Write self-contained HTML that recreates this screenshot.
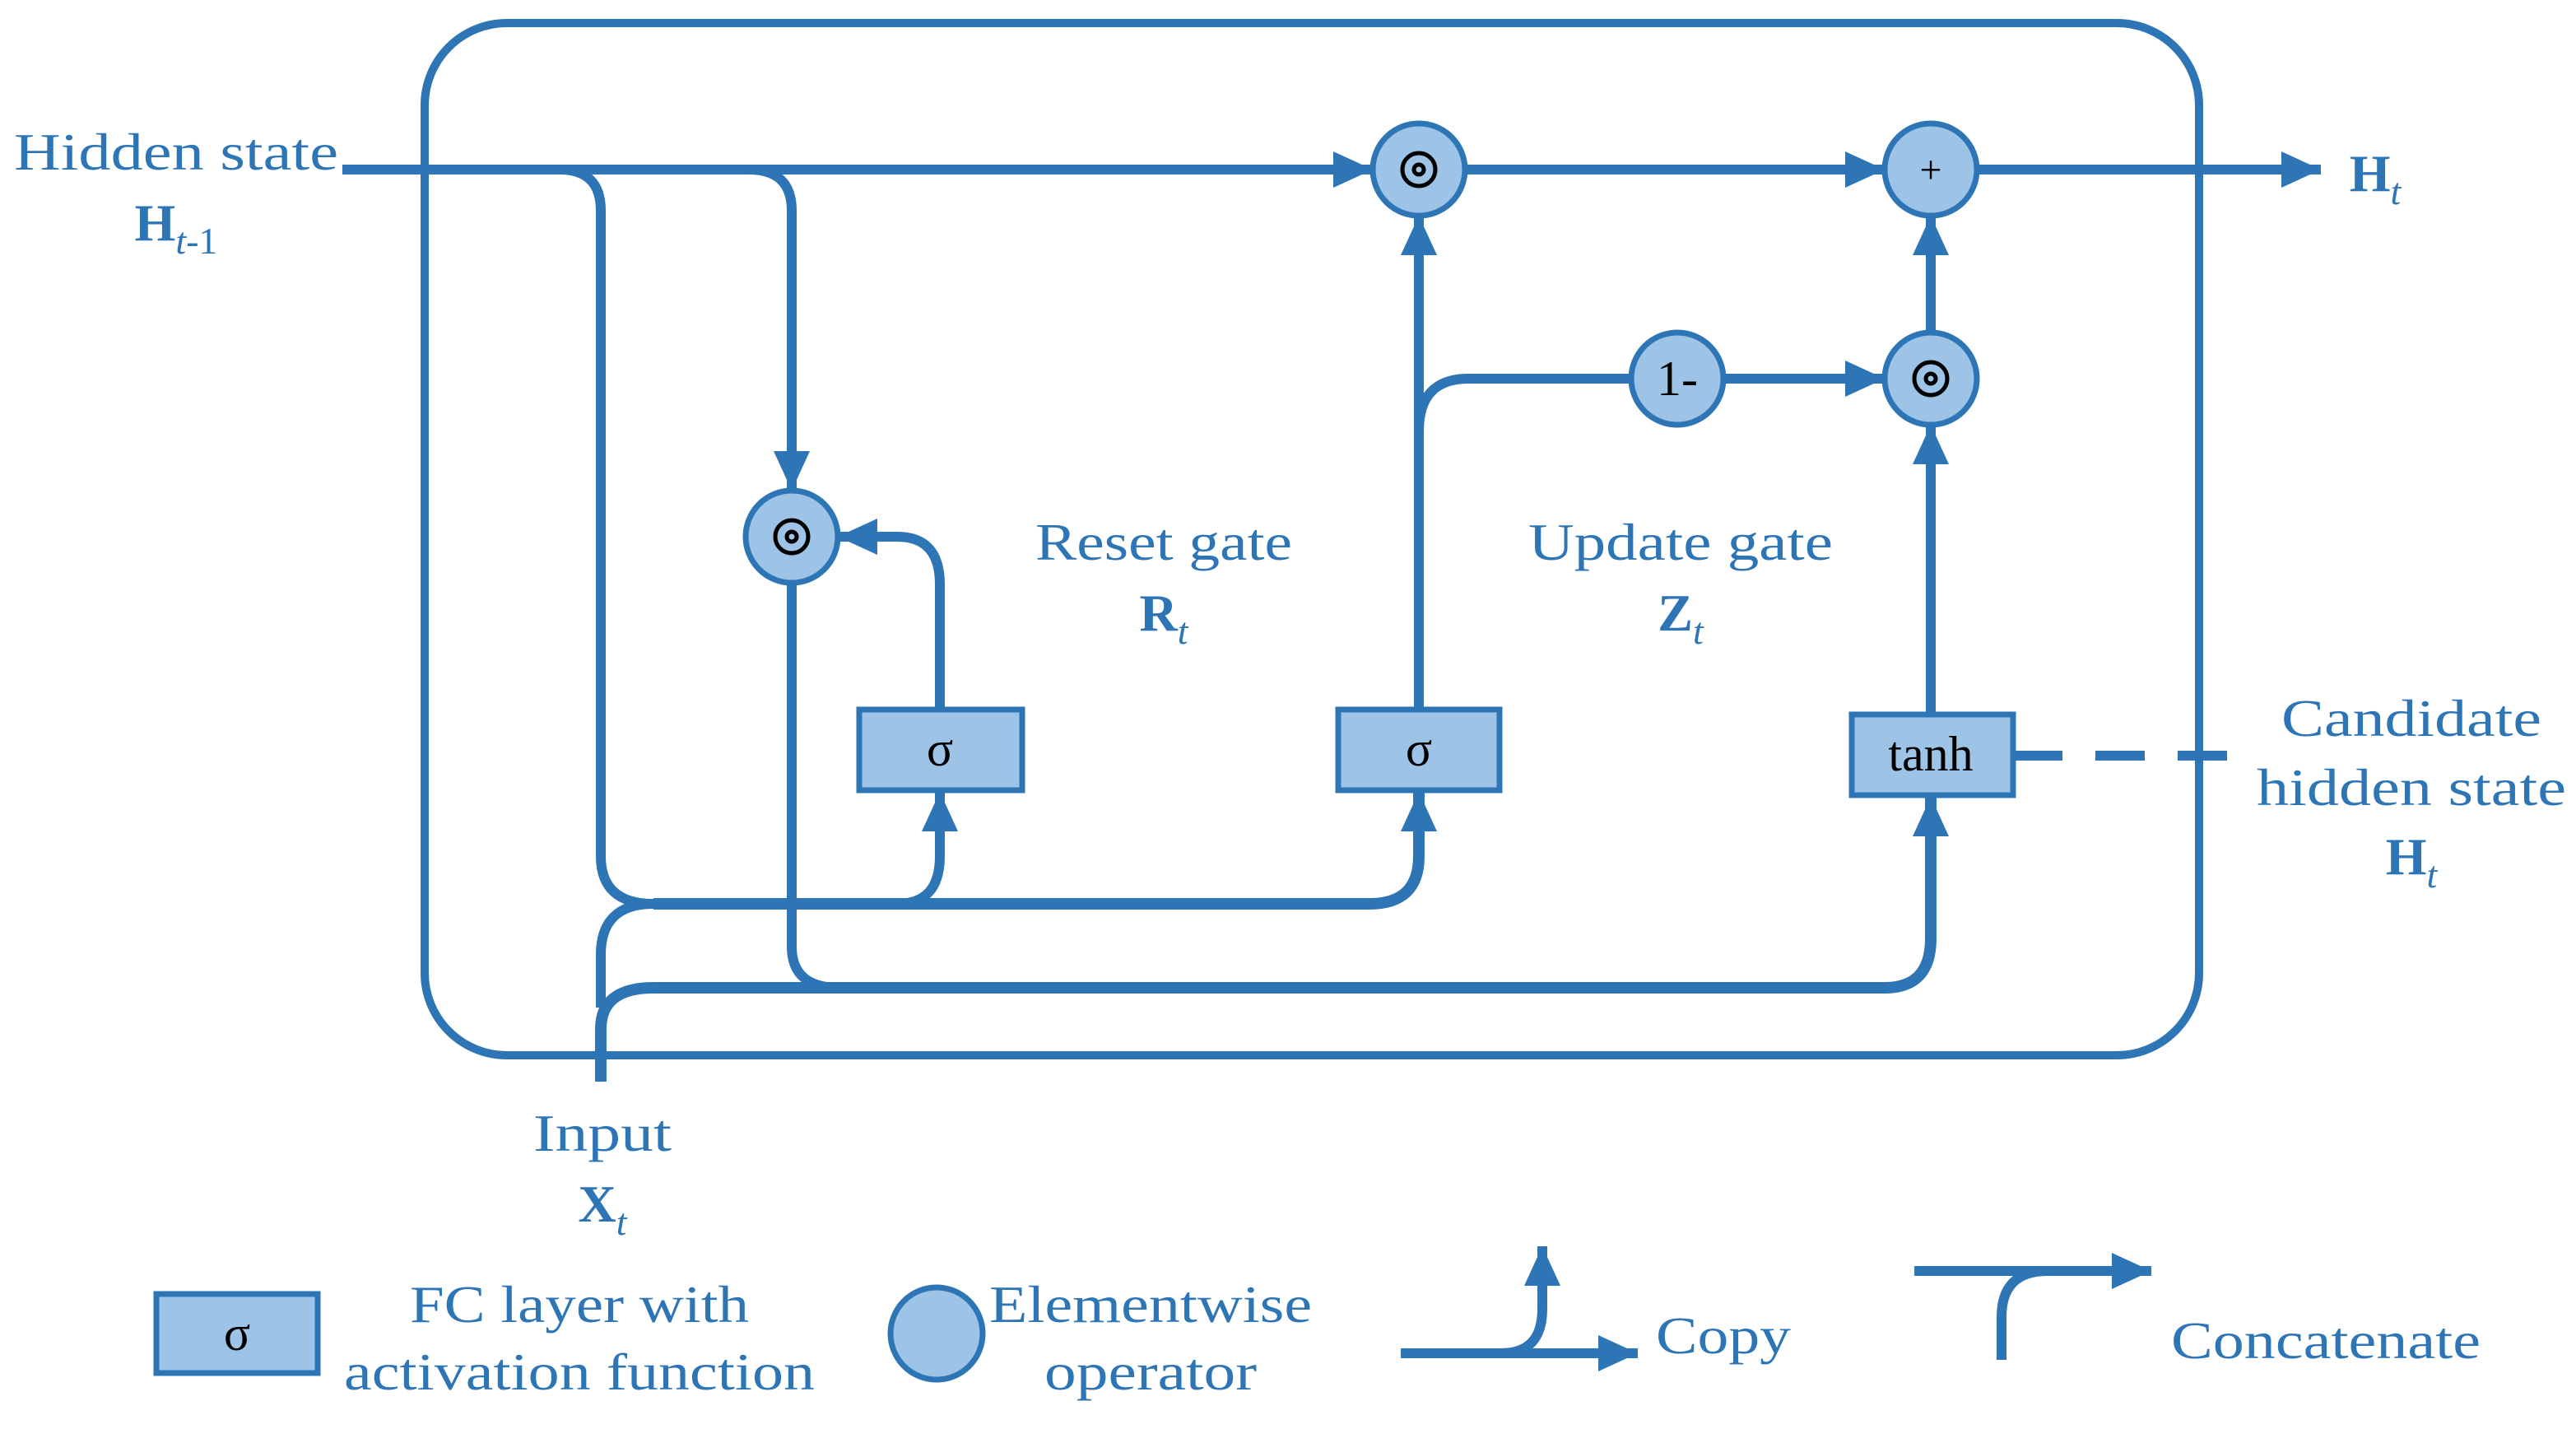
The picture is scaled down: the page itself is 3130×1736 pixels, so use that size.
<!DOCTYPE html>
<html><head><meta charset="utf-8"><style>
html,body{margin:0;padding:0;background:#fff;}
svg{display:block;}
text{font-family:"Liberation Serif",serif;fill:#2E75B6;}
.k{fill:#000;}
</style></head><body>
<svg width="3130" height="1736" viewBox="0 0 1565 868" xmlns="http://www.w3.org/2000/svg">
<defs>
<marker id="a" markerUnits="userSpaceOnUse" markerWidth="24" markerHeight="22" refX="24" refY="11" orient="auto">
<path d="M0,0 L24,11 L0,22 z" fill="#2E75B6"/>
</marker>
</defs>
<g fill="none" stroke="#2E75B6" stroke-width="6">
<rect x="258" y="14" width="1078" height="627" rx="50" stroke-width="5"/>
<path d="M208,103 H834" marker-end="url(#a)"/>
<path d="M890,103 H1145" marker-end="url(#a)"/>
<path d="M1201,103 H1410" marker-end="url(#a)"/>
<path d="M340,103 Q365,103 365,128 V520 Q365,549 397,549"/>
<path d="M397,549 H832 Q862,549 862,520 V481" stroke-width="7" marker-end="url(#a)"/>
<path d="M545,549 Q571,549 571,520 V481" marker-end="url(#a)"/>
<path d="M365,657 V625 Q365,600 397,600 H1145 Q1173,600 1173,570 V484" stroke-width="7" marker-end="url(#a)"/>
<path d="M365,612 V580 Q365,549 397,549"/>
<path d="M455,103 Q481,103 481,128 V298" marker-end="url(#a)"/>
<path d="M481,354 V575 Q481,600 510,600"/>
<path d="M571,431 V355 Q571,326 545,326 H509" marker-end="url(#a)"/>
<path d="M862,431 V131" marker-end="url(#a)"/>
<path d="M862,262 Q862,230 892,230 H991"/>
<path d="M1047,230 H1145" marker-end="url(#a)"/>
<path d="M1173,434 V258" marker-end="url(#a)"/>
<path d="M1173,202 V131" marker-end="url(#a)"/>
<path d="M1223,459 H1355" stroke-dasharray="30,20"/>
<path d="M851,822 H995" marker-end="url(#a)"/>
<path d="M912,822 Q937,822 937,795 V757" marker-end="url(#a)"/>
<path d="M1163,772 H1307" marker-end="url(#a)"/>
<path d="M1216,826 V800 Q1216,772 1244,772"/>
</g>
<g fill="#9DC3E6" stroke="#2E75B6" stroke-width="3.5">
<circle cx="862" cy="103" r="28"/>
<circle cx="1173" cy="103" r="28"/>
<circle cx="1019" cy="230" r="28"/>
<circle cx="1173" cy="230" r="28"/>
<circle cx="481" cy="326" r="28"/>
<circle cx="569" cy="810" r="28"/>
<rect x="522" y="431" width="99" height="49"/>
<rect x="813" y="431" width="98" height="49"/>
<rect x="1125" y="434" width="98" height="49"/>
<rect x="95" y="786" width="98" height="48"/>
</g>
<g fill="none" stroke="#000" stroke-width="2.5">
<circle cx="862" cy="103" r="10"/><circle cx="862" cy="103" r="3"/>
<circle cx="1173" cy="230" r="10"/><circle cx="1173" cy="230" r="3"/>
<circle cx="481" cy="326" r="10"/><circle cx="481" cy="326" r="3"/>
</g>
<g text-anchor="middle" font-size="32">
<text class="k" x="1173" y="111" font-size="24">+</text>
<text class="k" x="1019" y="240" font-size="30">1-</text>
<text class="k" x="571" y="465" font-size="30">σ</text>
<text class="k" x="862" y="465" font-size="30">σ</text>
<text class="k" x="1173" y="468" font-size="30">tanh</text>
<text class="k" x="144" y="820" font-size="30">σ</text>
<text x="107" y="103" textLength="197" lengthAdjust="spacingAndGlyphs">Hidden state</text>
<text x="107" y="146"><tspan font-weight="bold">H</tspan><tspan font-style="italic" font-size="23" dy="8">t</tspan><tspan font-size="23">-1</tspan></text>
<text x="1443" y="116"><tspan font-weight="bold">H</tspan><tspan font-style="italic" font-size="23" dy="8">t</tspan></text>
<text x="707" y="340" textLength="156" lengthAdjust="spacingAndGlyphs">Reset gate</text>
<text x="707" y="383"><tspan font-weight="bold">R</tspan><tspan font-style="italic" font-size="23" dy="8">t</tspan></text>
<text x="1021" y="340" textLength="185" lengthAdjust="spacingAndGlyphs">Update gate</text>
<text x="1021" y="383"><tspan font-weight="bold">Z</tspan><tspan font-style="italic" font-size="23" dy="8">t</tspan></text>
<text x="1465" y="447" textLength="158" lengthAdjust="spacingAndGlyphs">Candidate</text>
<text x="1465" y="489" textLength="188" lengthAdjust="spacingAndGlyphs">hidden state</text>
<text x="1465" y="531"><tspan font-weight="bold">H</tspan><tspan font-style="italic" font-size="23" dy="8">t</tspan></text>
<text x="366" y="699" textLength="84" lengthAdjust="spacingAndGlyphs">Input</text>
<text x="366" y="742"><tspan font-weight="bold">X</tspan><tspan font-style="italic" font-size="23" dy="8">t</tspan></text>
<text x="352" y="803" textLength="206" lengthAdjust="spacingAndGlyphs">FC layer with</text>
<text x="352" y="844" textLength="286" lengthAdjust="spacingAndGlyphs">activation function</text>
<text x="699" y="803" textLength="196" lengthAdjust="spacingAndGlyphs">Elementwise</text>
<text x="699" y="844" textLength="129" lengthAdjust="spacingAndGlyphs">operator</text>
<text x="1047" y="822" textLength="82" lengthAdjust="spacingAndGlyphs">Copy</text>
<text x="1413" y="825" textLength="188" lengthAdjust="spacingAndGlyphs">Concatenate</text>
</g>
</svg>
</body></html>
